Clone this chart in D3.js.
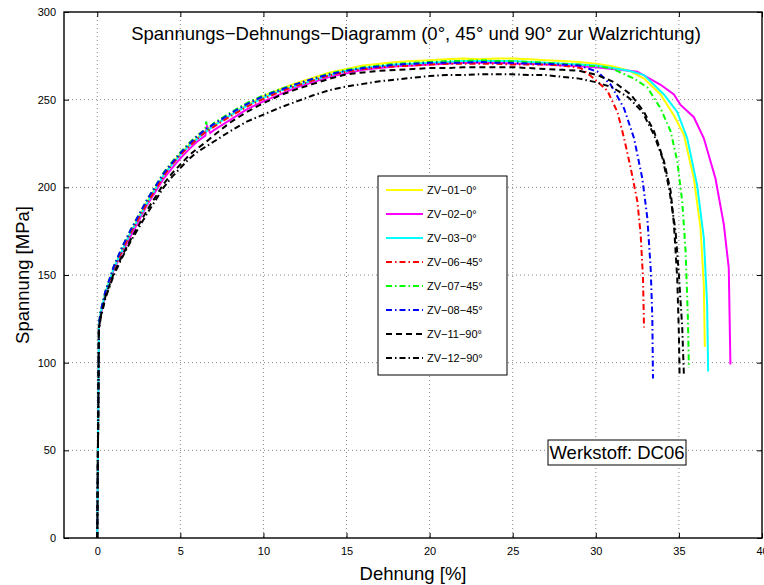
<!DOCTYPE html>
<html><head><meta charset="utf-8">
<script src="https://cdn.jsdelivr.net/npm/d3@7"></script>
<style>body{margin:0;background:#fff}svg{display:block}text{font-family:"Liberation Sans",Arial,Helvetica,sans-serif}</style>
</head><body><svg id="c" width="764" height="585"></svg>
<script>
const titleText = "Spannungs\u2212Dehnungs\u2212Diagramm (0°, 45° und 90° zur Walzrichtung)";
const xLabel = "Dehnung [%]";
const yLabel = "Spannung [MPa]";
const noteText = "Werkstoff: DC06";
const xTicks = [0,5,10,15,20,25,30,35,40];
const yTicks = [0,50,100,150,200,250,300];
const seriesNames = ["ZV\u221201\u22120°","ZV\u221202\u22120°","ZV\u221203\u22120°","ZV\u221206\u221245°","ZV\u221207\u221245°","ZV\u221208\u221245°","ZV\u221211\u221290°","ZV\u221212\u221290°"];
const seriesColors = ["#ffff00","#ff00ff","#00ffff","#ff0000","#00ff00","#0000ff","#000000","#000000"];
const seriesDash = ["none","none","none","6,3,1.5,3","6,3,1.5,3","6,3,1.5,3","6,4","6,3,1.5,3"];

const zv01 = [[0,0],[0.1,121],[0.2,128],[0.5,140],[1,154],[1.5,164],[2,174],[3,192],[4,207],[4.5,213.5],[5,219],[5.5,224],[6,228],[6.5,232],[7,235.5],[8,241],[9,247],[10,252],[11,256],[12,259.5],[13,262.5],[14,265.5],[15,267.5],[16,269.5],[17,270.5],[18,271.5],[19,272],[20,272.5],[21,273],[22,273.5],[23,273],[24,273.5],[25,273.5],[26,273],[27,272.5],[28,272],[29,271.5],[30,270.5],[31,269],[32,266.5],[32.9,262],[33.9,253],[34.7,241],[35.3,230],[35.9,205],[36.3,177],[36.5,144],[36.56,109]];
const zv02 = [[0,0],[0.1,120],[0.2,127],[0.5,139],[1,153],[1.5,163],[2,172],[3,190],[4,205],[4.5,211],[5,216.5],[5.5,221.5],[6,226],[6.5,229.5],[6.6,235],[6.8,231],[7,232.5],[8,238.5],[9,244.5],[10,249],[11,253],[12,257],[13,260],[14,263],[15,265],[16,267],[17,268],[18,269],[19,269.5],[20,270],[21,270.5],[22,271],[23,271],[24,271],[25,270.5],[26,270.5],[27,270],[28,269.5],[29,269],[30,268.5],[31,267.5],[32,266.5],[32.5,266],[33.9,258.5],[34.7,253],[35.1,247],[35.9,240],[36.5,228],[37.2,205],[37.7,179],[38.0,154],[38.1,99]];
const zv03 = [[0,0],[0.1,121],[0.2,128],[0.5,140],[1,154],[1.5,164],[2,174],[3,191],[4,207],[4.5,213],[5,218.5],[5.5,223.5],[6,227.5],[6.5,231.5],[7,235],[8,241],[9,246.5],[10,251],[11,255],[12,258],[13,261],[14,264],[15,266.5],[16,268],[17,269],[18,270],[19,270.5],[20,271],[21,271.5],[22,272],[23,272],[24,272],[25,272],[26,271.5],[27,271],[28,270.5],[29,270],[30,269.5],[31,268],[32,266.5],[32.9,264],[34.1,253],[34.9,243],[35.5,228],[36.1,201],[36.5,171],[36.7,133],[36.76,95]];
const zv06 = [[0,0],[0.1,121],[0.2,128],[0.5,140],[1,154],[1.5,164],[2,174],[3,191],[4,206.5],[4.5,213],[5,218.5],[5.5,223],[6,227.5],[6.5,231.5],[7,234.5],[8,240.5],[9,246],[10,250.5],[11,254.5],[12,258],[13,261],[14,264],[15,266],[16,267.5],[17,268.5],[18,269],[19,269.5],[20,270],[21,270.5],[22,270.5],[23,270.5],[24,270.5],[25,270],[26,270],[27,270],[28,269.5],[29.1,268],[29.9,262],[30.7,255],[31.3,243],[31.7,228],[32.1,211],[32.5,192],[32.7,173],[32.84,148],[32.9,120]];
const zv07 = [[0,0],[0.1,122],[0.2,129],[0.5,141],[1,155],[1.5,166],[2,175.5],[3,193],[4,208.5],[4.5,214.5],[5,220],[5.5,225],[6,229.5],[6.5,233],[6.55,237.5],[6.65,233.5],[7,236.5],[8,242.5],[9,248],[10,252.5],[11,256],[12,259],[13,262],[14,265],[15,267],[16,268.5],[17,269.5],[18,270.5],[19,271],[20,271.5],[21,272],[22,272],[23,272.5],[24,272],[25,272],[26,271.5],[27,271],[28,270.5],[29,270],[30,269],[30.9,268],[32.3,262],[33.1,257],[33.9,245],[34.5,232],[34.9,215],[35.2,192],[35.4,164],[35.54,126],[35.6,97]];
const zv08 = [[0,0],[0.1,122],[0.2,129],[0.5,141],[1,155],[1.5,166],[2,175.5],[3,193],[4,208],[4.5,214],[5,219.5],[5.5,224.5],[6,229],[6.5,233],[7,236],[8,242],[9,247.5],[10,252],[11,255.5],[12,259],[13,262],[14,264.5],[15,266.5],[16,268],[17,269],[18,270],[19,270.5],[20,271],[21,271],[22,271],[23,271.5],[24,271],[25,271],[26,270.5],[27,270.5],[28,270],[29,269.5],[30.1,266],[30.9,258.5],[31.7,245],[32.3,228],[32.8,205],[33.1,182.5],[33.3,154],[33.4,126],[33.44,91]];
const zv11 = [[0,0],[0.1,120],[0.2,126],[0.5,138],[1,151],[1.5,161],[2,170],[3,187],[4,202],[4.5,208],[5,213],[5.5,218],[6,222],[6.5,225.5],[7,229.5],[8,237],[9,243],[10,248],[11,252.5],[12,256],[13,259],[14,262],[15,264.5],[16,265.5],[17,266.5],[18,267],[19,267.5],[20,268],[21,268],[22,268.5],[23,268.5],[24,268.5],[25,268.5],[26,268],[27,267.5],[28,267],[29,266.5],[30.1,264],[31.1,260],[32.1,253],[32.9,243],[33.5,232],[34.1,215],[34.5,198],[34.7,179],[34.9,148],[35.0,116],[35.04,93]];
const zv12 = [[0,0],[0.1,118],[0.2,125],[0.5,137],[1,150],[1.5,160],[2,169],[3,185],[4,200],[4.5,206],[5,211],[5.5,216],[6,220],[6.5,223],[7,226],[8,232],[9,237.5],[10,241.5],[11,245.5],[12,249],[13,252.5],[14,255.5],[15,257.5],[16,259],[17,260.5],[18,261.5],[19,262.5],[20,263.5],[21,264],[22,264],[23,264.5],[24,264.5],[25,264.5],[26,264],[27,264],[28,263],[29,262],[30,260],[31,257],[32,251],[32.8,243],[33.5,230],[34,217],[34.4,200],[34.8,175],[35.0,150],[35.2,120],[35.3,93]];
const seriesData = [zv01,zv02,zv03,zv06,zv07,zv08,zv11,zv12];

const svg = d3.select("#c");
const L=64,R=762,T=12,B=538;
const x = d3.scaleLinear().domain([-2,40]).range([L,R]);
const y = d3.scaleLinear().domain([0,300]).range([B,T]);

// grid
const g = svg.append("g");
g.selectAll(".gx").data(xTicks.filter(d=>d>-2&&d<40)).enter().append("line")
  .attr("x1",d=>x(d)).attr("x2",d=>x(d)).attr("y1",T).attr("y2",B)
  .attr("stroke","#888").attr("stroke-width",1).attr("stroke-dasharray","1,3");
g.selectAll(".gy").data(yTicks.filter(d=>d>0&&d<300)).enter().append("line")
  .attr("x1",L).attr("x2",R).attr("y1",d=>y(d)).attr("y2",d=>y(d))
  .attr("stroke","#888").attr("stroke-width",1).attr("stroke-dasharray","1,3");

// axes
const xa = svg.append("g").attr("transform",`translate(0,${B})`)
  .call(d3.axisBottom(x).tickValues(xTicks).tickSize(-5).tickPadding(9).tickFormat(d3.format("d")));
const xt = svg.append("g").attr("transform",`translate(0,${T})`)
  .call(d3.axisTop(x).tickValues(xTicks).tickSize(-5).tickFormat(""));
const ya = svg.append("g").attr("transform",`translate(${L},0)`)
  .call(d3.axisLeft(y).tickValues(yTicks).tickSize(-5).tickPadding(8).tickFormat(d3.format("d")));
const yr = svg.append("g").attr("transform",`translate(${R},0)`)
  .call(d3.axisRight(y).tickValues(yTicks).tickSize(-5).tickFormat(""));
[xa,xt,ya,yr].forEach(a=>{a.select(".domain").remove();a.selectAll("line").attr("stroke","#000");a.selectAll("text").attr("font-size","11px").attr("fill","#000").style("font-family",'"Liberation Sans",Arial,sans-serif');});

// curves
const line = d3.line().x(d=>x(d[0])).y(d=>y(d[1]));
seriesData.forEach((s,i)=>{
  svg.append("path").datum(s).attr("d",line).attr("fill","none")
    .attr("stroke",seriesColors[i]).attr("stroke-width",2)
    .attr("stroke-dasharray",seriesDash[i]);
});

// frame
svg.append("rect").attr("x",L).attr("y",T).attr("width",R-L).attr("height",B-T)
  .attr("fill","none").attr("stroke","#000").attr("stroke-width",1.4);

// title
svg.append("text").attr("x",416).attr("y",40).attr("text-anchor","middle")
  .attr("font-size","18.5px").text(titleText);

// legend
const lg = svg.append("g");
lg.append("rect").attr("x",378).attr("y",176).attr("width",129).attr("height",199)
  .attr("fill","#fff").attr("stroke","#000").attr("stroke-width",1);
seriesNames.forEach((n,i)=>{
  const yy = 190 + i*24;
  lg.append("line").attr("x1",386).attr("x2",423).attr("y1",yy).attr("y2",yy)
    .attr("stroke",seriesColors[i]).attr("stroke-width",2).attr("stroke-dasharray",seriesDash[i]);
  lg.append("text").attr("x",427).attr("y",yy+4).attr("font-size","11px").text(n);
});

// note box
svg.append("rect").attr("x",548).attr("y",440).attr("width",138).attr("height",25)
  .attr("fill","#fff").attr("stroke","#000").attr("stroke-width",1);
svg.append("text").attr("x",617).attr("y",459).attr("text-anchor","middle")
  .attr("font-size","18.5px").text(noteText);

// axis labels
svg.append("text").attr("x",413).attr("y",580).attr("text-anchor","middle")
  .attr("font-size","18.5px").text(xLabel);
svg.append("text").attr("transform","translate(29,275) rotate(-90)").attr("text-anchor","middle")
  .attr("font-size","18.5px").text(yLabel);
</script></body></html>
